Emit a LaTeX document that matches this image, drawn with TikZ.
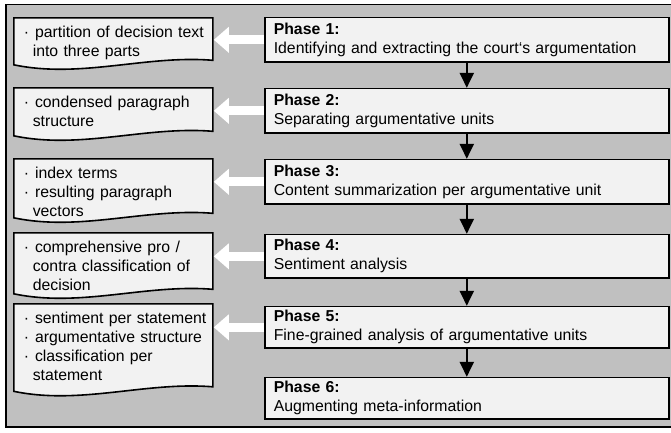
\documentclass[tikz,border=0pt]{standalone}
\usepackage{fontspec}
\setmainfont{Liberation Sans}
\usetikzlibrary{arrows.meta,positioning}
\definecolor{framegray}{HTML}{C0C0C0}
\definecolor{boxfill}{HTML}{F2F2F2}
\pgfdeclarelayer{background}
\pgfsetlayers{background,main}
\setlength{\parindent}{0pt}
\newcommand{\li}[1]{\mbox{\textperiodcentered\hspace{6pt}#1}}
\newcommand{\lc}[1]{\mbox{\hspace*{9pt}#1}}

\begin{document}
\begin{tikzpicture}[x=1pt, y=1pt, font=\fontsize{15.8}{19}\selectfont]
% Define styles
\tikzstyle{phase} = [rectangle, draw, line width=1.6pt, fill=boxfill, anchor=north west, text width=386pt, inner xsep=9pt, align=left]
\tikzstyle{doc} = [anchor=north west, text width=179pt, inner xsep=10pt, inner ysep=6.5pt, outer sep=0pt, align=left, execute at begin node=\strut]
\tikzstyle{docshape} = [draw, fill=boxfill, line width=1.6pt]
\tikzstyle{result} = [draw=white, line width=9pt, -{Triangle[width=25pt,length=15pt]}, shorten >=1pt]
\tikzstyle{flow} = [line width=2.5pt, -{Triangle[width=14pt,length=15pt]}]

\useasboundingbox (0,0) rectangle (671,-432);

% Phases
\node [phase, minimum height=44.4pt] (p1) at (264,-16.8) {\textbf{Phase 1:}\\Identifying and extracting the court‘s argumentation};
\node [phase, minimum height=44.4pt] (p2) at (264,-87.8) {\textbf{Phase 2:}\\Separating argumentative units};
\node [phase, minimum height=44.4pt] (p3) at (264,-158.8) {\textbf{Phase 3:}\\Content summarization per argumentative unit};
\node [phase, minimum height=43.4pt] (p4) at (264,-233.8) {\textbf{Phase 4:}\\Sentiment analysis};
\node [phase, minimum height=41.4pt] (p5) at (264,-305.8) {\textbf{Phase 5:}\\Fine-grained analysis of argumentative units};
\node [phase, minimum height=41.4pt] (p6) at (264,-376.8) {\textbf{Phase 6:}\\Augmenting meta-information};

% Results
\node [doc] (d1) at (13.8,-17.8) {\li{partition of decision text}\\\lc{into three parts}};
\node [doc] (d2) at (13.8,-87.8) {\li{condensed paragraph}\\\lc{structure}};
\node [doc] (d3) at (13.8,-158.8) {\li{index terms}\\\li{resulting paragraph}\\\lc{vectors}};
\node [doc] (d4) at (13.8,-232.8) {\li{comprehensive pro /}\\\lc{contra classification of}\\\lc{decision}};
\node [doc] (d5) at (13.8,-303.8) {\li{sentiment per statement}\\\li{argumentative structure}\\\li{classification per}\\\lc{statement}};

% Frame and document outlines
\begin{pgfonlayer}{background}
\draw [line width=1.6pt, fill=framegray] (5.8,-4.3) rectangle (673,-427);
\filldraw [docshape] (d1.north west) -- (d1.north east) -- ++(0,-42.5) .. controls +(-67,5.5) and +(67,-14) .. ++(-199,-4.5) -- cycle;
\filldraw [docshape] (d2.north west) -- (d2.north east) -- ++(0,-43.5) .. controls +(-67,5.5) and +(67,-14) .. ++(-199,-4.5) -- cycle;
\filldraw [docshape] (d3.north west) -- (d3.north east) -- ++(0,-54.5) .. controls +(-67,5.5) and +(67,-14) .. ++(-199,-4.5) -- cycle;
\filldraw [docshape] (d4.north west) -- (d4.north east) -- ++(0,-56.5) .. controls +(-67,5.5) and +(67,-14) .. ++(-199,-4.5) -- cycle;
\filldraw [docshape] (d5.north west) -- (d5.north east) -- ++(0,-83) .. controls +(-67,5.5) and +(67,-14) .. ++(-199,-4.5) -- cycle;
\end{pgfonlayer}

% Connections
\draw [result] (p1.west) -- (p1.west -| d1.east);
\draw [result] (p2.west) -- (p2.west -| d2.east);
\draw [result] (p3.west) -- (p3.west -| d3.east);
\draw [result] (p4.west) -- (p4.west -| d4.east);
\draw [result] (p5.west) -- (p5.west -| d5.east);

\draw [flow] (p1) -- (p2);
\draw [flow] (p2) -- (p3);
\draw [flow] (p3) -- (p4);
\draw [flow] (p4) -- (p5);
\draw [flow] (p5) -- (p6);

\end{tikzpicture}
\end{document}
